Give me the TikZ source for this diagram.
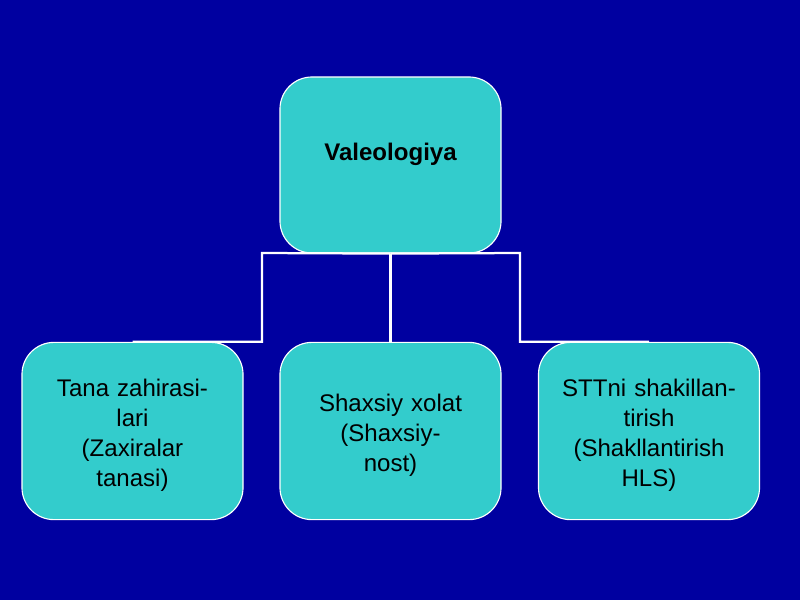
\documentclass[tikz,border=0pt]{standalone}
\usepackage{fontspec}
\setmainfont{Liberation Sans}
\definecolor{bgblue}{HTML}{0000A0}
\definecolor{boxcyan}{HTML}{33CCCC}
\begin{document}
\begin{tikzpicture}[x=0.025cm, y=-0.025cm,
    box/.style={draw=white, line width=0.8pt, fill=boxcyan, rounded corners=0.8cm,
              minimum width=5.525cm, minimum height=4.43cm, text width=5.2cm,
              align=center, inner sep=0pt, text=black,
              font=\fontsize{17.1}{21.3}\selectfont},
    wire/.style={draw=white, line width=1.6pt}]
        \fill[bgblue] (0,0) rectangle (800,600);
        \useasboundingbox (0,0) rectangle (800,600);
        \node[box, minimum height=4.4cm] (valeo) at (390.5,165)
            {\raisebox{0.65cm}{\bfseries Valeologiya}};
        \foreach \name/\x/\txt in {
            tana/132.5/{Tana zahirasi-\\lari\\(Zaxiralar\\tanasi)},
            shax/390.5/{Shaxsiy xolat\\(Shaxsiy-\\nost)},
            stt/649/{STTni shakillan-\\tirish\\(Shakllantirish\\HLS)}}{
            \node[box] (\name) at (\x,431) {\rule{0pt}{0.64cm}\txt};
        };
        \coordinate (elbowL) at (262,253);
        \coordinate (elbowR) at (520,253);
        \draw[wire] (tana.north) -| (elbowL) -- (valeo.south);
        \draw[wire] (shax.north) -- (valeo.south);
        \draw[wire] (stt.north) -| (elbowR) -- (valeo.south);
    \end{tikzpicture}
\end{document}
